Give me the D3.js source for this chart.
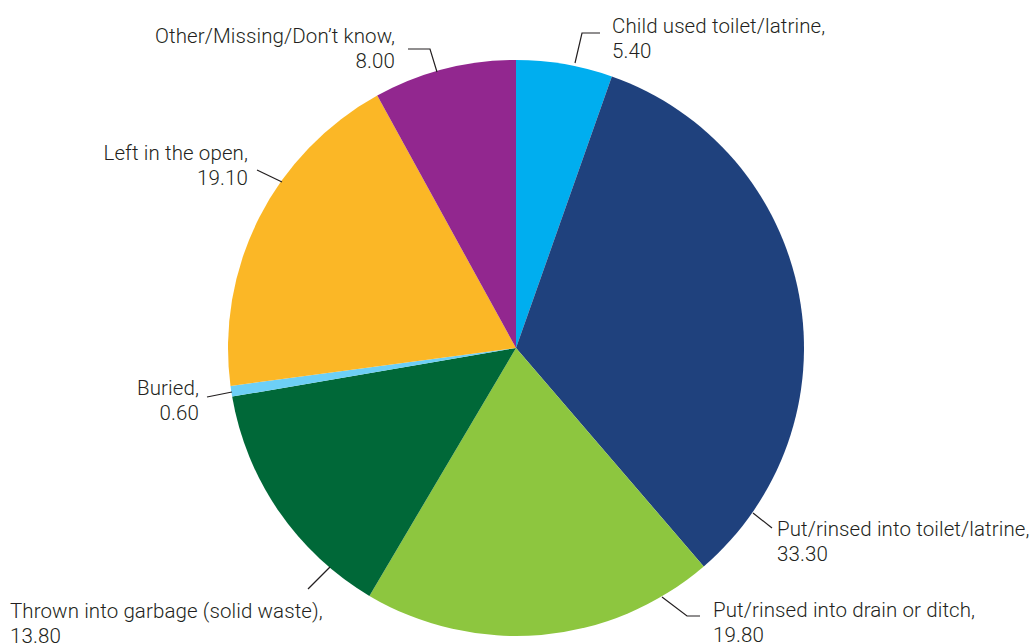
<!DOCTYPE html>
<html>
<head>
<meta charset="utf-8">
<script src="https://cdn.jsdelivr.net/npm/d3@7"></script>
<style>
  html, body { margin: 0; padding: 0; background: #fff; }
  svg text { font-family: Roboto, "Open Sans", sans-serif; font-weight: 300; fill: #231f20; letter-spacing: 0.1px; }
</style>
</head>
<body>
<svg id="chart" width="1032" height="644"></svg>
<script>
// Disposal of child's stools (%)
const categories = [
  "Child used toilet/latrine",
  "Put/rinsed into toilet/latrine",
  "Put/rinsed into drain or ditch",
  "Thrown into garbage (solid waste)",
  "Buried",
  "Left in the open",
  "Other/Missing/Don\u2019t know"
];
const values = [5.40, 33.30, 19.80, 13.80, 0.60, 19.10, 8.00];
const colors = ["#00aeef", "#1f417d", "#8dc63f", "#006838", "#6dcff6", "#fbb726", "#92278f"];

// Label placement: text anchor point, alignment, and leader polyline
const labelLayout = [
  { x: 612, y: 33, anchor: "start", leader: [[575, 63], [582, 33], [600, 33]] },
  { x: 777, y: 536, anchor: "start", leader: [[753, 513], [772, 528]] },
  { x: 713, y: 617, anchor: "start", leader: [[662, 597], [687, 616], [700, 616]] },
  { x: 10, y: 618, anchor: "start", leader: [[330, 567], [308, 589]] },
  { x: 199, y: 395, anchor: "end", leader: [[232, 392], [207, 397]] },
  { x: 248, y: 160, anchor: "end", leader: [[282, 182], [257, 170]] },
  { x: 395, y: 43, anchor: "end", leader: [[437, 72], [430, 49], [408, 49]] }
];

const svg = d3.select("#chart");
const cx = 516, cy = 348, radius = 288;

const data = categories.map((c, i) => ({ name: c, value: values[i], color: colors[i] }));

const pie = d3.pie().value(d => d.value).sort(null);
const arc = d3.arc().innerRadius(0).outerRadius(radius);

const g = svg.append("g").attr("transform", `translate(${cx},${cy})`);
g.selectAll("path.slice")
  .data(pie(data))
  .join("path")
  .attr("class", "slice")
  .attr("d", arc)
  .attr("fill", d => d.data.color);

// Leader lines
const line = d3.line();
svg.selectAll("path.leader")
  .data(labelLayout)
  .join("path")
  .attr("class", "leader")
  .attr("d", d => line(d.leader))
  .attr("fill", "none")
  .attr("stroke", "#231f20")
  .attr("stroke-width", 1.2);

// Two-line labels: category name, then value
const lineH = 25;
const labels = svg.selectAll("text.label")
  .data(data)
  .join("text")
  .attr("class", "label")
  .attr("font-size", 20.5)
  .attr("text-anchor", (d, i) => labelLayout[i].anchor);
labels.append("tspan")
  .attr("x", (d, i) => labelLayout[i].x)
  .attr("y", (d, i) => labelLayout[i].y)
  .text(d => d.name + ",");
labels.append("tspan")
  .attr("x", (d, i) => labelLayout[i].x)
  .attr("y", (d, i) => labelLayout[i].y + lineH)
  .text(d => d3.format(".2f")(d.value));
</script>
</body>
</html>
